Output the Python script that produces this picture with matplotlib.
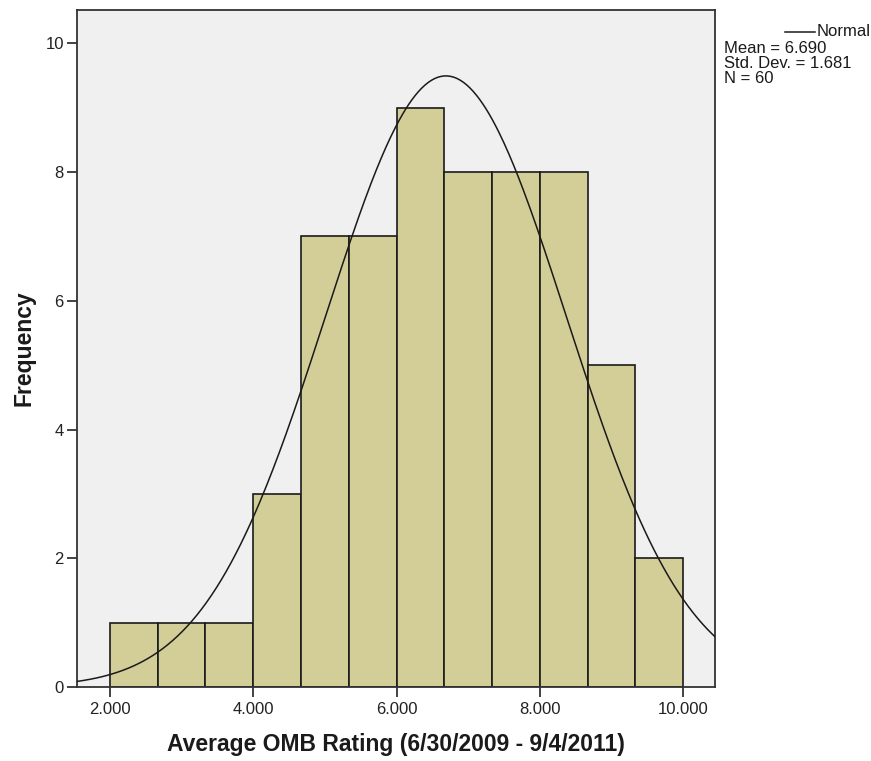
import numpy as np
import matplotlib.pyplot as plt

plt.rcParams['font.family'] = ['Liberation Sans', 'DejaVu Sans']

# histogram of average OMB ratings
bin_edges = [2.0, 2.667, 3.333, 4.0, 4.667, 5.333, 6.0, 6.667, 7.333, 8.0, 8.667, 9.333, 10.0]
counts = [1, 1, 1, 3, 7, 7, 9, 8, 8, 8, 5, 2]
mean = 6.690
std = 1.681
n = 60
xticks = [2.0, 4.0, 6.0, 8.0, 10.0]
xtick_labels = ['2.000', '4.000', '6.000', '8.000', '10.000']
yticks = [0, 2, 4, 6, 8, 10]

fig = plt.figure(figsize=(8.71, 7.61), dpi=100)
ax = fig.add_axes([0.0884, 0.0972, 0.7325, 0.8897])
ax.set_facecolor('#f0f0f0')

edges = np.array(bin_edges)
widths = np.diff(edges)
ax.bar(edges[:-1], counts, width=widths, align='edge', color='#d3ce97',
       edgecolor='#1a1a1a', linewidth=1.2, zorder=2)

# normal curve scaled to counts
bw = (edges[-1] - edges[0]) / len(counts)
xs = np.linspace(1.5, 10.5, 400)
ys = n * bw * np.exp(-0.5 * ((xs - mean) / std) ** 2) / (std * np.sqrt(2 * np.pi))
ax.plot(xs, ys, color='#1a1a1a', linewidth=1.1, zorder=3)

ax.set_xlim(1.539, 10.447)
ax.set_ylim(0, 10.517)
ax.set_xticks(xticks)
ax.set_xticklabels(xtick_labels)
ax.set_yticks(yticks)
ax.tick_params(axis='both', length=7.5, width=1.2, color='#222222', labelsize=12,
               labelcolor='#222222')
ax.tick_params(axis='x', pad=3)
ax.tick_params(axis='y', pad=2)
for sp in ax.spines.values():
    sp.set_color('#333333')
    sp.set_linewidth(1.3)

ax.set_xlabel('Average OMB Rating (6/30/2009 - 9/4/2011)', fontsize=16.5,
              fontweight='bold', color='#1a1a1a', labelpad=12)
ax.set_ylabel('Frequency', fontsize=16.5, fontweight='bold', color='#1a1a1a',
              labelpad=7)

# legend and summary stats outside the axes
fig.add_artist(plt.Line2D([785 / 871, 815 / 871], [1 - 32 / 761, 1 - 32 / 761],
                          color='#1a1a1a', linewidth=1.1))
fig.text(817 / 871, 1 - 32 / 761, 'Normal', fontsize=12, va='center', ha='left',
         color='#1a1a1a')
fig.text(724 / 871, 1 - 41 / 761,
         'Mean = %.3f\nStd. Dev. = %.3f\nN = %d' % (mean, std, n),
         fontsize=12, va='top', ha='left', color='#1a1a1a', linespacing=1.0)

fig.savefig('out.png', dpi=100, facecolor='white')
